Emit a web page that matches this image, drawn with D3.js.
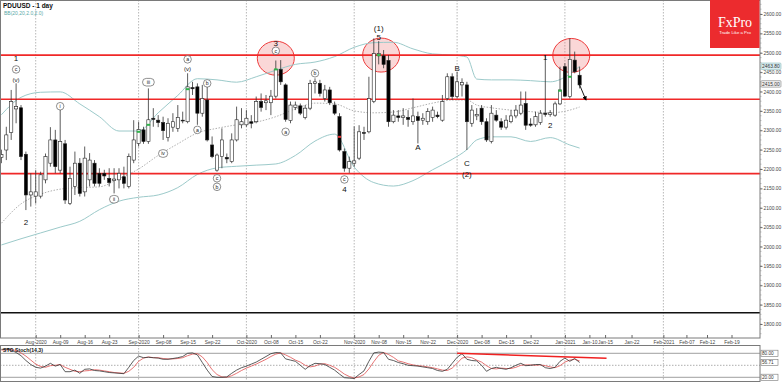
<!DOCTYPE html>
<html><head><meta charset="utf-8">
<script src="https://cdn.jsdelivr.net/npm/d3@7"></script>
<style>body{margin:0;background:#fff;}svg{display:block;font-family:"Liberation Sans",Arial,sans-serif;}</style>
</head><body><svg id="c" width="782" height="383"></svg>
<script>
// ---------- DATA ----------
const dates = ["07-23","07-24","07-27","07-28","07-29","07-30","07-31",
"08-03","08-04","08-05","08-06","08-07","08-10","08-11","08-12","08-13","08-14","08-17","08-18","08-19","08-20","08-21","08-24","08-25","08-26","08-27","08-28","08-31",
"09-01","09-02","09-03","09-04","09-07","09-08","09-09","09-10","09-11","09-14","09-15","09-16","09-17","09-18","09-21","09-22","09-23","09-24","09-25","09-28","09-29","09-30",
"10-01","10-02","10-05","10-06","10-07","10-08","10-09","10-12","10-13","10-14","10-15","10-16","10-19","10-20","10-21","10-22","10-23","10-26","10-27","10-28","10-29","10-30",
"11-02","11-03","11-04","11-05","11-06","11-09","11-10","11-11","11-12","11-13","11-16","11-17","11-18","11-19","11-20","11-23","11-24","11-25","11-26","11-27","11-30",
"12-01","12-02","12-03","12-04","12-07","12-08","12-09","12-10","12-11","12-14","12-15","12-16","12-17","12-18","12-21","12-22","12-23","12-24","12-28","12-29","12-30","12-31",
"01-04","01-05","01-06","01-07"];
const open = [2230,2249,2294,2355,2358,2238,2133,2130,2130,2172,
2215,2275,2197,2265,2111,2155,2215,2141,2172,2215,
2189,2189,2176,2170,2172,2180,2155,2223,2266,2301,
2271,2331,2326,2320,2281,2308,2305,2326,2322,2410,
2412,2344,2378,2262,2197,2232,2230,2219,2275,2314,
2314,2322,2322,2374,2371,2371,2388,2457,2417,2325,
2359,2363,2333,2357,2421,2421,2382,2404,2365,2335,
2245,2202,2215,2228,2294,2296,2374,2492,2492,2480,
2322,2337,2333,2333,2322,2335,2326,2322,2333,2339,
2326,2382,2438,2387,2417,2417,2318,2337,2357,2322,
2271,2339,2322,2308,2322,2337,2344,2369,2316,2314,
2320,2344,2341,2339,2368,2464,2387,2481,2442];
const high = [2250,2309,2404,2421,2365,2245,2189,2197,2193,2240,
2308,2301,2357,2275,2206,2245,2228,2258,2241,2223,
2202,2198,2202,2202,2202,2206,2240,2326,2322,2309,
2408,2357,2339,2335,2331,2344,2365,2348,2447,2425,
2421,2417,2421,2284,2240,2305,2240,2292,2361,2357,
2352,2339,2387,2395,2391,2404,2480,2481,2421,2374,
2374,2369,2365,2430,2434,2430,2417,2412,2374,2344,
2253,2232,2310,2313,2309,2438,2537,2530,2507,2494,
2352,2352,2357,2352,2382,2348,2344,2357,2361,2348,
2391,2447,2447,2451,2434,2425,2365,2357,2365,2331,
2365,2352,2331,2339,2352,2365,2400,2400,2331,2348,
2352,2494,2352,2374,2464,2473,2537,2503,2464];
const low = [2215,2223,2275,2318,2223,2094,2103,2111,2124,2163,
2206,2189,2189,2110,2107,2133,2129,2129,2155,2155,
2155,2172,2155,2137,2150,2150,2150,2215,2258,2265,
2265,2309,2308,2275,2271,2296,2296,2318,2318,2391,
2314,2335,2271,2228,2193,2202,2215,2215,2271,2305,
2309,2305,2318,2348,2352,2339,2382,2417,2322,2318,
2352,2339,2328,2352,2395,2387,2374,2365,2339,2245,
2193,2190,2206,2223,2275,2292,2370,2470,2460,2309,
2318,2322,2314,2309,2314,2266,2314,2314,2322,2331,
2322,2378,2378,2382,2387,2249,2309,2326,2314,2270,
2266,2322,2301,2302,2318,2331,2339,2301,2309,2309,
2314,2335,2335,2335,2365,2387,2382,2447,2408];
const close = [2237,2288,2374,2361,2232,2133,2141,2141,2185,2232,
2275,2206,2271,2120,2176,2215,2137,2228,2223,2163,
2163,2182,2165,2174,2189,2163,2232,2275,2302,2271,
2327,2328,2320,2299,2318,2322,2333,2324,2412,2407,
2344,2382,2275,2232,2236,2275,2226,2275,2327,2322,
2331,2318,2374,2359,2376,2388,2457,2425,2328,2365,
2365,2344,2357,2421,2425,2395,2404,2371,2344,2249,
2202,2219,2221,2296,2292,2382,2498,2498,2470,2322,
2339,2333,2337,2328,2337,2325,2331,2348,2352,2335,
2374,2438,2387,2425,2423,2322,2352,2341,2322,2275,
2344,2326,2308,2326,2337,2352,2365,2313,2313,2335,
2344,2341,2345,2368,2404,2388,2483,2451,2417];

// Bollinger Bands BB(20,20,2.0,2.0), read at selected bars
const bbBars  = [0,4,8,12,16,20,24,28,32,36,40,44,48,52,56,60,64,68,72,76,80,84,88,92,95,97,100,104,108,112,116,118];
const bbUpper = [2340,2385,2398,2399,2368,2335,2298,2298,2345,2390,2433,2430,2424,2438,2455,2470,2476,2490,2514,2526,2527,2510,2497,2494,2489,2432,2430,2430,2428,2425,2445,2465];
const bbMid   = [2060,2110,2135,2148,2152,2154,2175,2200,2235,2265,2293,2305,2314,2321,2335,2355,2370,2368,2350,2345,2347,2358,2370,2378,2378,2365,2358,2352,2348,2345,2352,2360];
const bbLower = [2004,2020,2035,2050,2065,2095,2117,2127,2133,2152,2186,2203,2207,2210,2213,2235,2272,2290,2205,2165,2156,2170,2198,2225,2250,2275,2283,2283,2271,2281,2262,2254];

// Stochastic (14,3)
const stochK = [90,90,88,82,74,62,52,45,43,48,55,48,52,34,34,38,30,40,41,37,
36,34,32,31,30,29,45,62,73,69,70,69,68,65,65,67,69,72,80,81,
76,57,38,22,20,20,21,30,38,44,48,53,58,65,72,79,82,81,66,63,
60,50,40,49,55,54,52,45,38,28,19,18,17,27,36,60,81,83,82,65,
62,57,54,50,49,48,46,44,42,37,35,40,55,70,79,65,62,61,50,35,
42,45,42,40,44,50,55,49,50,52,52,44,42,45,60,68,60,67,57];
const stochD = [88,89,89,87,81,73,63,53,47,45,49,50,52,45,40,35,34,36,37,39,
38,36,34,32,31,30,35,45,60,68,71,69,69,67,66,66,67,69,74,78,
79,71,57,39,27,21,20,24,30,37,43,48,53,59,65,72,78,81,76,70,
63,58,50,46,48,53,54,50,45,37,28,22,18,21,27,41,59,75,82,77,
70,61,58,54,51,49,48,46,44,41,38,37,43,55,68,71,69,63,58,49,
42,41,43,42,42,45,50,51,51,50,51,49,46,44,49,58,63,65,61];
const stochLevels = [80, 50, 20];

// horizontal levels
const redLevels = [2494, 2380, 2188];
const blackLevel = 1829;
const priceTicks = [1800,1850,1900,1950,2000,2050,2100,2150,2200,2250,2300,2350,2400,2450,2500,2550,2600];

// time axis labels and the bar position each sits on
const tickLabels = ["Aug-2020","Aug-09","Aug-16","Aug-23","Sep-2020","Sep-08","Sep-15","Sep-22","Oct-2020","Oct-08","Oct-15","Oct-22","Nov-2020","Nov-08","Nov-15","Nov-22","Dec-2020","Dec-08","Dec-15","Dec-22","Jan-2021","Jan-10","Jan-15","Jan-22","Feb-2021","Feb-07","Feb-12","Feb-19"];
const tickBars = [7,12,17,22,28,33,38,43,50,55,60,65,72,77,82,87,93,98,103,108,115,120,123.2,128.6,135.1,139.8,144,149];
const monthBars = [7,28,50,72,93,115,135.1];

// Elliott wave annotations [text, bar, price, circled]
const waveText   = ["1","c","(v)","2","i","iii","iv","ii","a","(v)","b","a","c","b","3","c","a","b","c","4","(1)","5","A","B","C","(2)","1","2"];
const waveBar    = [3,3,3,5,12,30,33,23,38,38,42,40,44,44,56,56,58,64,70,70,77,77,85,93,95,95,111,112];
const wavePrice  = [2486,2457,2431,2063,2362,2424,2240,2122,2483,2460,2421,2301,2176,2154,2524,2505,2296,2447,2173,2148,2564,2541,2258,2460,2215,2187,2490,2314];
const waveCircle = [0,1,0,0,1,1,1,1,1,0,1,1,1,1,0,1,1,1,1,0,0,0,0,0,0,0,0,0];

// highlighted resistance touches
const hlBar = [56, 77.5, 116.3];
const hlPrice = [2486, 2494, 2493];
// signal markers
const greenBar = [28,30,38,56,77,114,116];
const greenPrice = [2296,2314,2406,2457,2494,2402,2438];

// ---------- DRAW ----------
const svg = d3.select("#c");
const PR = 760, PB = 338, ST = 345.5, SB = 381.5;
const FS = 4.9;
const x = d3.scaleLinear().domain([0,118]).range([1.4, 579.6]);
const y = d3.scaleLinear().domain([1800,2600]).range([324,14]);
const ys = d3.scaleLinear().domain([0,100]).range([385.3,345.3]);

const defs = svg.append("defs");
defs.append("clipPath").attr("id","mc").append("rect").attr("x",0).attr("y",0).attr("width",PR).attr("height",PB);
defs.append("clipPath").attr("id","sc").append("rect").attr("x",0).attr("y",ST).attr("width",PR).attr("height",SB-ST);
defs.append("marker").attr("id","arr").attr("viewBox","0 0 10 10").attr("refX",8).attr("refY",5)
  .attr("markerWidth",5).attr("markerHeight",5).attr("orient","auto")
  .append("path").attr("d","M0,0L10,5L0,10z").attr("fill","#000");

svg.append("rect").attr("width",782).attr("height",383).attr("fill","#fff");

// month separators
svg.append("g").selectAll("line").data(monthBars).join("line")
  .attr("x1",d=>x(d)).attr("x2",d=>x(d)).attr("y1",0).attr("y2",SB)
  .attr("stroke","#9a9a9a").attr("stroke-width",0.7).attr("stroke-dasharray","1.5,1.5");

const main = svg.append("g").attr("clip-path","url(#mc)");

// highlight ellipses (behind)
main.selectAll("ellipse").data(hlBar).join("ellipse")
  .attr("cx",d=>x(d)).attr("cy",(d,i)=>y(hlPrice[i])).attr("rx",18.5).attr("ry",17)
  .attr("fill","rgba(238,110,110,0.28)").attr("stroke","#ee3a3a").attr("stroke-width",1);

// bollinger bands
const idxs = d3.range(bbBars.length);
const bandLine = arr => d3.line().x(i=>x(bbBars[i])).y(i=>y(arr[i])).curve(d3.curveMonotoneX)(idxs);
main.append("path").attr("d",bandLine(bbUpper)).attr("fill","none").attr("stroke","#9ccaca").attr("stroke-width",1);
main.append("path").attr("d",bandLine(bbLower)).attr("fill","none").attr("stroke","#9ccaca").attr("stroke-width",1);
main.append("path").attr("d",bandLine(bbMid)).attr("fill","none").attr("stroke","#9a9a9a").attr("stroke-width",0.8).attr("stroke-dasharray","1.5,1.5");

// levels
main.selectAll("line.red").data(redLevels).join("line").attr("class","red")
  .attr("x1",0).attr("x2",PR).attr("y1",d=>y(d)).attr("y2",d=>y(d))
  .attr("stroke","#f02828").attr("stroke-width",1.6);
main.append("line").attr("x1",0).attr("x2",PR).attr("y1",y(blackLevel)).attr("y2",y(blackLevel))
  .attr("stroke","#111").attr("stroke-width",1.5);

// candles
const cg = main.append("g");
const bars = d3.range(open.length);
cg.selectAll("line.w").data(bars).join("line").attr("class","w")
  .attr("x1",i=>x(i)).attr("x2",i=>x(i)).attr("y1",i=>y(high[i])).attr("y2",i=>y(low[i]))
  .attr("stroke","#333").attr("stroke-width",0.8);
cg.selectAll("rect.b").data(bars).join("rect").attr("class","b")
  .attr("x",i=>x(i)-1.6).attr("width",3.2)
  .attr("y",i=>y(Math.max(open[i],close[i])))
  .attr("height",i=>Math.max(0.8,Math.abs(y(open[i])-y(close[i]))))
  .attr("fill",i=>close[i]>=open[i]?"#fff":"#000")
  .attr("stroke","#222").attr("stroke-width",0.6);

// markers
cg.selectAll("rect.g").data(greenBar).join("rect").attr("class","g")
  .attr("x",d=>x(d)-1.8).attr("width",3.6).attr("y",(d,i)=>y(greenPrice[i])-1).attr("height",2)
  .attr("fill","#2fb34a");
cg.append("rect").attr("x",x(69)-1.5).attr("width",3).attr("y",y(2283)-1).attr("height",2).attr("fill","#e03030");

// arrow
main.append("line").attr("x1",x(118)).attr("y1",y(2417)).attr("x2",x(119.3)).attr("y2",y(2378))
  .attr("stroke","#000").attr("stroke-width",0.9).attr("marker-end","url(#arr)");

// wave labels
const wl = main.append("g");
waveText.forEach((t,i)=>{
  const cx = x(waveBar[i]), cy = y(wavePrice[i]);
  if (waveCircle[i]) {
    const w = Math.max(7.5, t.length*2.6+4);
    wl.append("rect").attr("x",cx-w/2).attr("y",cy-3.8).attr("width",w).attr("height",7.6).attr("rx",3.8)
      .attr("fill","#fff").attr("stroke","#444").attr("stroke-width",0.6);
    wl.append("text").attr("x",cx).attr("y",cy+1.8).attr("text-anchor","middle")
      .attr("font-size",5.2).attr("fill","#222").text(t);
  } else {
    const big = /^[0-9A-C]$/.test(t) || t==="(1)" || t==="(2)";
    wl.append("text").attr("x",cx).attr("y",cy+3).attr("text-anchor","middle")
      .attr("font-size",big?8:6).attr("fill","#111").text(t);
  }
});

// panel borders
svg.append("rect").attr("x",0.5).attr("y",0.5).attr("width",PR-0.5).attr("height",PB-0.5)
  .attr("fill","none").attr("stroke","#7a7a7a").attr("stroke-width",1);

// right price axis
const ra = svg.append("g").attr("transform",`translate(${PR},0)`)
  .call(d3.axisRight(y).tickValues(priceTicks).tickFormat(d3.format(".2f")).tickSize(2.5).tickPadding(1));
ra.select(".domain").remove();
ra.selectAll("text").attr("font-size",FS).attr("fill","#444").attr("font-family","Liberation Sans, Arial");
ra.selectAll("line").attr("stroke","#666");
svg.append("g").selectAll("line").data(d3.range(1775,2636,12.5)).join("line")
  .attr("x1",PR).attr("x2",PR+1.5).attr("y1",d=>y(d)).attr("y2",d=>y(d)).attr("stroke","#888").attr("stroke-width",0.5);

// current value boxes
const boxes = [[y(bbUpper[bbUpper.length-1]),"2463.80","#d8ecef","#8fbcbc"],[y(close[close.length-1])-1,"2415.00","#eee","#888"]];
boxes.forEach(b=>{
  svg.append("rect").attr("x",PR+1).attr("y",b[0]-3.3).attr("width",20).attr("height",6.6).attr("fill",b[2]).attr("stroke",b[3]).attr("stroke-width",0.6).attr("rx",1);
  svg.append("text").attr("x",PR+2).attr("y",b[0]+1.7).attr("font-size",FS).attr("fill","#333").text(b[1]);
});

// bottom time axis
const ba = svg.append("g").attr("transform",`translate(0,${PB})`)
  .call(d3.axisBottom(x).tickValues(tickBars).tickFormat((d,i)=>tickLabels[i]).tickSize(-3).tickPadding(2.5));
ba.select(".domain").remove();
ba.selectAll("text").attr("font-size",FS).attr("fill","#444").attr("font-family","Liberation Sans, Arial");
ba.selectAll("line").attr("stroke","#666");

// stochastic panel
const sp = svg.append("g");
sp.selectAll("line.lv").data(stochLevels).join("line").attr("class","lv")
  .attr("x1",0).attr("x2",PR).attr("y1",d=>ys(d)).attr("y2",d=>ys(d))
  .attr("stroke",d=>d===50?"#999":"#777").attr("stroke-width",d=>d===50?0.8:0.7)
  .attr("stroke-dasharray",d=>d===50?"1.5,1.5":null);
const sc = sp.append("g").attr("clip-path","url(#sc)");
const sline = arr => d3.line().x((d,i)=>x(i)).y(d=>ys(d))(arr);
sc.append("path").attr("d",sline(stochD)).attr("fill","none").attr("stroke","#e05050").attr("stroke-width",0.8);
sc.append("path").attr("d",sline(stochK)).attr("fill","none").attr("stroke","#333").attr("stroke-width",0.8);
sc.append("line").attr("x1",x(93)).attr("y1",ys(80)).attr("x2",x(123.5)).attr("y2",ys(67.5))
  .attr("stroke","#f02020").attr("stroke-width",1.5);
sp.append("rect").attr("x",0.5).attr("y",ST).attr("width",PR-0.5).attr("height",SB-ST)
  .attr("fill","none").attr("stroke","#7a7a7a").attr("stroke-width",1);
sp.append("text").attr("x",3).attr("y",ST+6.5).attr("font-size",5.2).attr("font-weight","bold").attr("fill","#111").text("STO Stoch(14,3)");
[[80,"80.00"],[stochK[stochK.length-1],"56.71"],[20,"20.00"]].forEach(b=>{
  const yy = ys(b[0]);
  sp.append("rect").attr("x",PR+1).attr("y",yy-3.1).attr("width",17).attr("height",6.2).attr("fill","#fff").attr("stroke","#777").attr("stroke-width",0.6);
  sp.append("text").attr("x",PR+2).attr("y",yy+1.7).attr("font-size",4.7).attr("fill","#333").text(b[1]);
});

// title
svg.append("text").attr("x",3).attr("y",7.5).attr("font-size",6.5).attr("font-weight","bold").attr("fill","#111").text("PDUUSD   - 1 day");
svg.append("text").attr("x",4).attr("y",15).attr("font-size",5).attr("fill","#5aa8a8").text("BB(20,20,2.0,2.0)");

// logo
svg.append("rect").attr("x",710).attr("y",0).attr("width",49.5).attr("height",48).attr("fill","#ec2b2e");
svg.append("text").attr("x",735).attr("y",27).attr("text-anchor","middle").attr("font-family","Liberation Serif, serif")
  .attr("font-size",14).attr("fill","#fff").text("FxPro");
svg.append("text").attr("x",735).attr("y",34).attr("text-anchor","middle").attr("font-size",4.3).attr("fill","#fff").text("Trade Like a Pro");
</script></body></html>
